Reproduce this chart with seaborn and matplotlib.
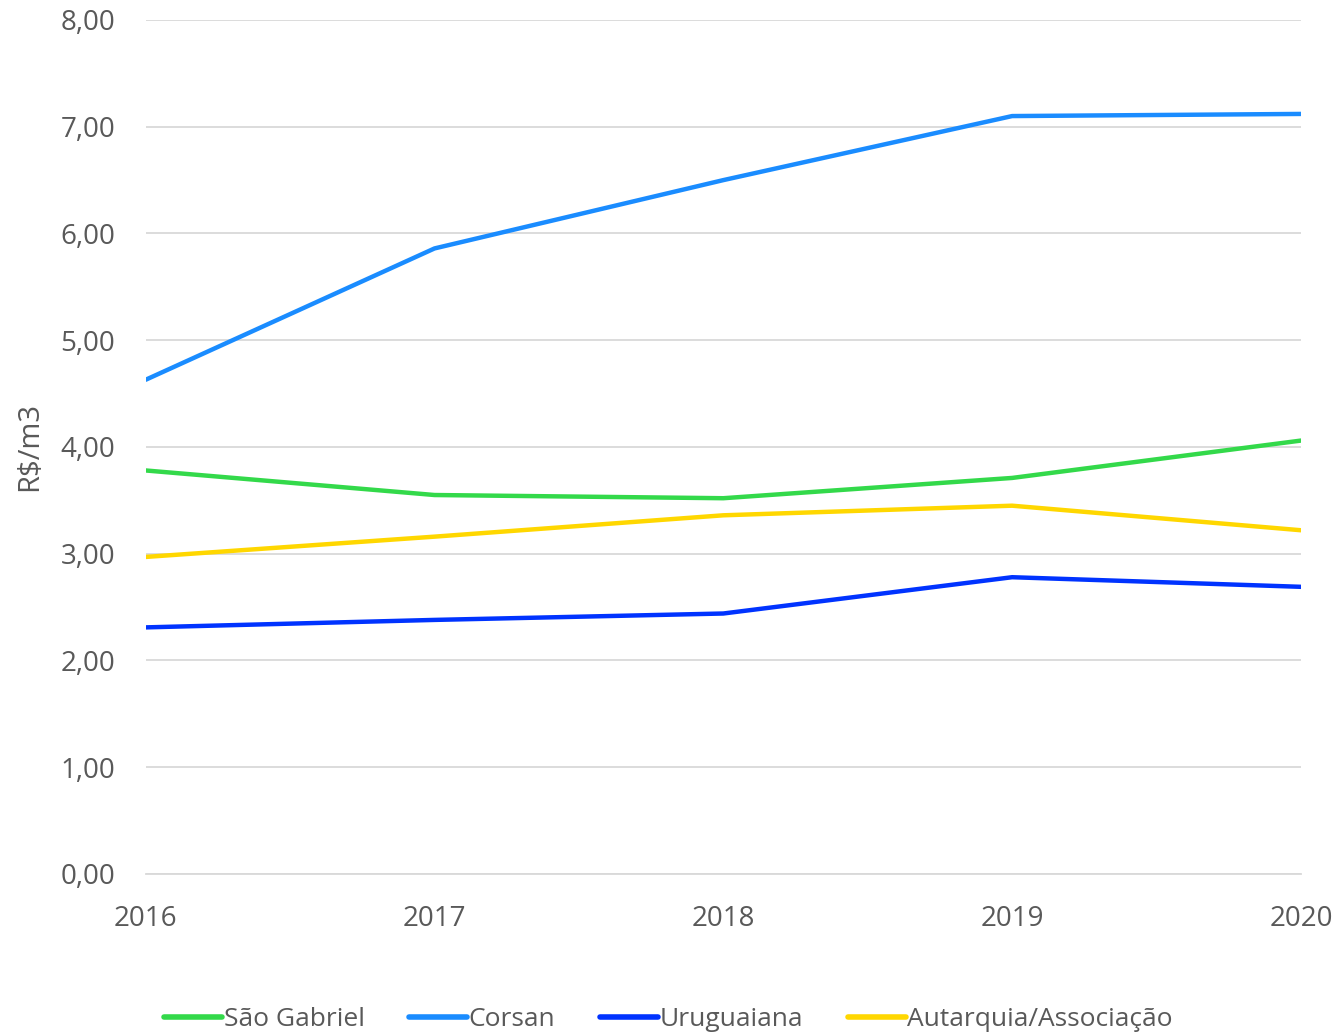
import pandas as pd
import matplotlib
matplotlib.use("Agg")
import matplotlib.pyplot as plt
import seaborn as sns
from matplotlib.ticker import FuncFormatter

# Data
anos = [2016, 2017, 2018, 2019, 2020]
sao_gabriel = [3.78, 3.55, 3.52, 3.71, 4.06]
corsan = [4.63, 5.86, 6.50, 7.10, 7.12]
uruguaiana = [2.31, 2.38, 2.44, 2.78, 2.69]
autarquia = [2.97, 3.16, 3.36, 3.45, 3.22]

series = {
    "São Gabriel": sao_gabriel,
    "Corsan": corsan,
    "Uruguaiana": uruguaiana,
    "Autarquia/Associação": autarquia,
}
cores = ["#33d94a", "#1a8cff", "#0033ff", "#ffd700"]

df = pd.DataFrame(
    [(a, nome, v) for nome, vals in series.items() for a, v in zip(anos, vals)],
    columns=["ano", "serie", "valor"],
)

sns.set_theme(style="white")
plt.rcParams["font.family"] = ["Open Sans", "DejaVu Sans"]

fig = plt.figure(figsize=(13.37, 10.36), dpi=100)
ax = fig.add_axes([0.109, 0.1564, 0.864, 0.8243])

sns.lineplot(data=df, x="ano", y="valor", hue="serie", palette=cores,
             linewidth=3.2, ax=ax, legend=True)

ax.set_xlim(2016, 2020)
ax.set_ylim(0, 8)
ax.set_xticks(anos)
ax.set_yticks(range(0, 9))
ax.yaxis.set_major_formatter(FuncFormatter(lambda v, p: f"{v:.2f}".replace(".", ",")))
ax.grid(axis="y", color="#d9d9d9", linewidth=1.3)
ax.set_axisbelow(True)
for s in ["top", "right", "left"]:
    ax.spines[s].set_visible(False)
ax.spines["bottom"].set_color("#d9d9d9")
ax.spines["bottom"].set_linewidth(1.3)
ax.tick_params(axis="both", length=0, labelsize=20, colors="#595959")
ax.tick_params(axis="x", pad=22)
ax.tick_params(axis="y", pad=22)
ax.set_xlabel("")
ax.set_ylabel("R$/m3", fontsize=21, color="#595959", labelpad=12)

handles, labels = ax.get_legend_handles_labels()
ax.get_legend().remove()
leg = fig.legend(handles, labels, loc="center", bbox_to_anchor=(0.5, 0.016), ncol=4,
                 frameon=False, fontsize=19, handlelength=2.2, handletextpad=0.05,
                 columnspacing=1.7)
for t in leg.get_texts():
    t.set_color("#595959")
for l in leg.get_lines():
    l.set_linewidth(4)

fig.savefig("out.png", dpi=100)
